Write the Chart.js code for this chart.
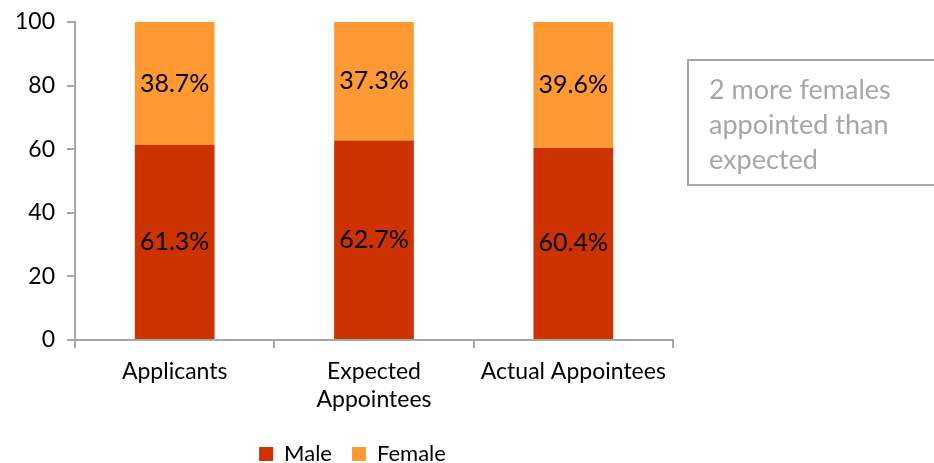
<!DOCTYPE html>
<html>
<head>
<meta charset="utf-8">
<script src="https://cdn.jsdelivr.net/npm/chart.js@4"></script>
<style>
  html, body { margin: 0; padding: 0; background: #fff; }
  #wrap { position: relative; width: 934px; height: 463px; }
  #note {
    position: absolute; left: 687px; top: 59px; width: 262px; height: 127px;
    border: 2px solid #A6A6A6; box-sizing: border-box;
    color: #A6A6A6; font-family: Lato, sans-serif; font-size: 27px; line-height: 35px;
    padding: 10px 0 0 20px;
  }
</style>
</head>
<body>
<div id="wrap">
  <canvas id="c" width="934" height="463"></canvas>
  <div id="note">2 more females<br>appointed than<br>expected</div>
</div>
<script>
const categories = [["Applicants"], ["Expected", "Appointees"], ["Actual Appointees"]];
const maleValues = [61.3, 62.7, 60.4];
const femaleValues = [38.7, 37.3, 39.6];
const yTicks = [0, 20, 40, 60, 80, 100];

const FONT = 'Lato, sans-serif';

const barLabels = {
  id: 'barLabels',
  afterDatasetsDraw(chart) {
    const ctx = chart.ctx;
    ctx.save();
    ctx.font = '25px ' + FONT;
    ctx.fillStyle = '#000';
    ctx.textAlign = 'center';
    ctx.textBaseline = 'middle';
    chart.data.datasets.forEach((ds, di) => {
      const meta = chart.getDatasetMeta(di);
      meta.data.forEach((bar, i) => {
        const p = bar.getProps(['x', 'y', 'base'], true);
        ctx.fillText(ds.data[i].toFixed(1) + '%', p.x, (p.y + p.base) / 2);
      });
    });
    ctx.restore();
  }
};

const legendShift = {
  id: 'legendShift',
  afterLayout(chart) {
    if (chart.legend) { chart.legend.left += 16; chart.legend.right += 16; }
  }
};

new Chart(document.getElementById('c'), {
  type: 'bar',
  data: {
    labels: categories,
    datasets: [
      { label: 'Male', data: maleValues, backgroundColor: '#CC3300' },
      { label: 'Female', data: femaleValues, backgroundColor: '#FF9933' }
    ]
  },
  options: {
    responsive: false,
    animation: false,
    devicePixelRatio: 1,
    layout: { padding: { left: 0, right: 261, top: 22, bottom: -12 } },
    datasets: { bar: { categoryPercentage: 1, barPercentage: 0.4 } },
    plugins: {
      legend: {
        position: 'bottom',
        labels: {
          font: { family: FONT, size: 22 }, color: '#000',
          boxWidth: 14, boxHeight: 14, padding: 20
        }
      },
      tooltip: { enabled: false }
    },
    scales: {
      x: {
        stacked: true,
        afterFit(scale) { scale.height -= 1; },
        grid: { drawOnChartArea: false, color: '#A6A6A6', lineWidth: 2, tickLength: 8, offset: true },
        border: { color: '#A6A6A6', width: 2 },
        ticks: { font: { family: FONT, size: 23, lineHeight: 1.22 }, color: '#000', maxRotation: 0, padding: 10 }
      },
      y: {
        stacked: true,
        min: 0, max: 100,
        afterBuildTicks(scale) { scale.ticks = yTicks.map(v => ({ value: v })); },
        afterFit(scale) { scale.width = 75; scale.paddingTop = 0; scale.paddingBottom = 0; },
        grid: { drawOnChartArea: false, color: '#A6A6A6', lineWidth: 2, tickLength: 8 },
        border: { color: '#A6A6A6', width: 2 },
        ticks: { font: { family: FONT, size: 23 }, color: '#000', padding: 12 }
      }
    }
  },
  plugins: [barLabels, legendShift]
});
</script>
</body>
</html>
